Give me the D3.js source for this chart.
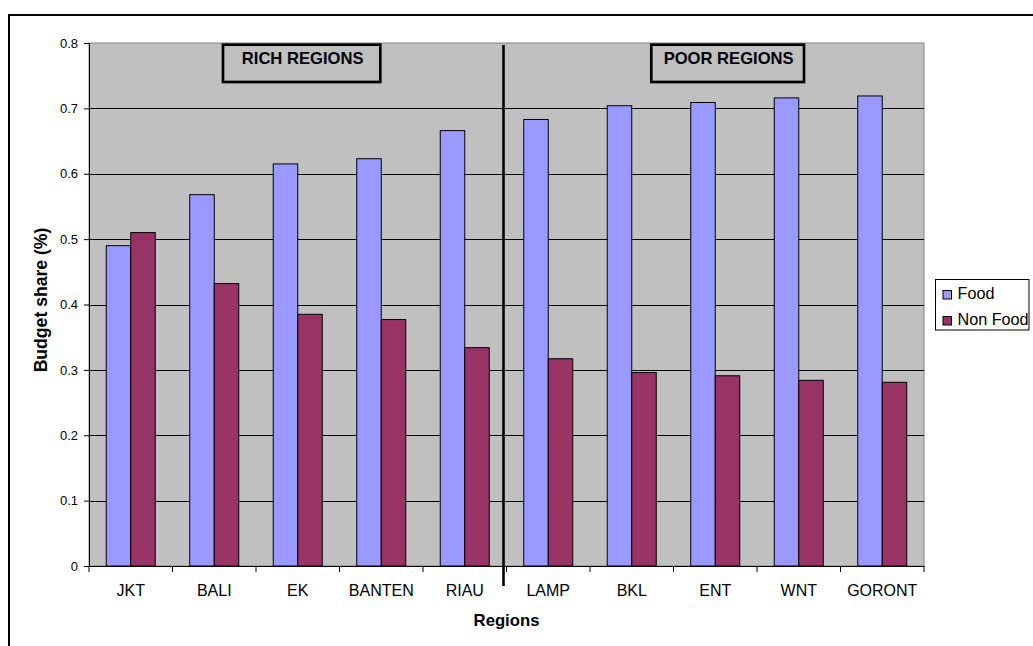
<!DOCTYPE html>
<html>
<head>
<meta charset="utf-8">
<script src="https://cdn.jsdelivr.net/npm/d3@7"></script>
<style>
  html, body { margin: 0; padding: 0; background: #fff; }
  svg { display: block; font-family: "Liberation Sans", Arial, sans-serif; }
</style>
</head>
<body>
<svg id="chart" width="1033" height="646"></svg>
<script>
// Budget shares by region
const categories = ["JKT", "BALI", "EK", "BANTEN", "RIAU", "LAMP", "BKL", "ENT", "WNT", "GORONT"];
const seriesNames = ["Food", "Non Food"];
const foodShare    = [0.490, 0.568, 0.615, 0.623, 0.666, 0.683, 0.704, 0.709, 0.716, 0.719];
const nonFoodShare = [0.510, 0.432, 0.385, 0.377, 0.334, 0.317, 0.296, 0.291, 0.284, 0.281];
const yTicks = [0, 0.1, 0.2, 0.3, 0.4, 0.5, 0.6, 0.7, 0.8];
const seriesColors = ["#9999FF", "#993366"];

const rows = categories.map((c, i) => ({ region: c, values: [foodShare[i], nonFoodShare[i]] }));

const svg = d3.select("#chart");
const plot = { left: 89, right: 924, top: 43, bottom: 566 };

// outer chart frame
svg.append("rect")
  .attr("x", 9).attr("y", 15).attr("width", 1100).attr("height", 700)
  .attr("fill", "none").attr("stroke", "#000").attr("stroke-width", 2);

const x0 = d3.scaleBand().domain(categories).range([plot.left, plot.right]).paddingInner(0).paddingOuter(0);
const x1 = d3.scaleBand().domain([0, 1]).range([0, x0.bandwidth()]).paddingInner(0).paddingOuter(0.704);
const y = d3.scaleLinear().domain([0, 0.8]).range([plot.bottom, plot.top]);

// plot background
svg.append("rect")
  .attr("x", plot.left).attr("y", plot.top)
  .attr("width", plot.right - plot.left).attr("height", plot.bottom - plot.top)
  .attr("fill", "#C0C0C0").attr("stroke", "#808080").attr("stroke-width", 1);

// horizontal gridlines
svg.append("g").selectAll("line")
  .data(yTicks.filter(t => t > 0 && t < 0.8))
  .join("line")
  .attr("x1", plot.left).attr("x2", plot.right)
  .attr("y1", d => Math.round(y(d)) + 0.5).attr("y2", d => Math.round(y(d)) + 0.5)
  .attr("stroke", "#000").attr("stroke-width", 1);

// bars
const groups = svg.append("g").selectAll("g")
  .data(rows).join("g")
  .attr("transform", d => `translate(${x0(d.region)},0)`);
groups.selectAll("rect")
  .data(d => d.values.map((v, k) => ({ v, k })))
  .join("rect")
  .attr("x", d => x1(d.k))
  .attr("width", x1.bandwidth())
  .attr("y", d => y(d.v))
  .attr("height", d => y(0) - y(d.v))
  .attr("fill", d => seriesColors[d.k])
  .attr("stroke", "#000").attr("stroke-width", 1);

// y axis
const yAxis = d3.axisLeft(y).tickValues(yTicks).tickSize(5).tickPadding(6)
  .tickFormat(d => d === 0 ? "0" : d3.format(".1f")(d));
const gy = svg.append("g").attr("transform", `translate(${plot.left},0)`).call(yAxis);
gy.select(".domain").attr("stroke", "#000");
gy.selectAll(".tick line").attr("stroke", "#000");
gy.selectAll("text").attr("font-size", 13).attr("fill", "#000")
  .attr("font-family", "Liberation Sans, Arial, sans-serif");

// x axis
const xAxis = d3.axisBottom(x0).tickSize(0).tickPadding(19);
const gx = svg.append("g").attr("transform", `translate(0,${plot.bottom})`).call(xAxis);
gx.select(".domain").attr("stroke", "#000");
gx.selectAll("text").attr("font-size", 16).attr("fill", "#000")
  .attr("font-family", "Liberation Sans, Arial, sans-serif");
// category boundary ticks
gx.append("g").selectAll("line")
  .data(d3.range(categories.length + 1))
  .join("line")
  .attr("x1", i => plot.left + i * x0.step()).attr("x2", i => plot.left + i * x0.step())
  .attr("y1", 0).attr("y2", 6)
  .attr("stroke", "#000");

// axis titles
svg.append("text")
  .attr("x", (plot.left + plot.right) / 2).attr("y", 626)
  .attr("text-anchor", "middle").attr("font-size", 16.7).attr("font-weight", "bold")
  .text("Regions");
svg.append("text")
  .attr("transform", `translate(47,300) rotate(-90)`)
  .attr("text-anchor", "middle").attr("font-size", 17.6).attr("font-weight", "bold")
  .text("Budget share (%)");

// divider between the two region groups
const divX = x0("LAMP") - 3;
svg.append("line")
  .attr("x1", divX).attr("x2", divX).attr("y1", 45).attr("y2", 586)
  .attr("stroke", "#000").attr("stroke-width", 2.6);

// group labels
const groupLabels = [
  { text: "RICH REGIONS", x: 223, w: 157.3 },
  { text: "POOR REGIONS", x: 651.3, w: 152.7 }
];
const gl = svg.append("g").selectAll("g").data(groupLabels).join("g");
gl.append("rect")
  .attr("x", d => d.x).attr("y", 44.7).attr("width", d => d.w).attr("height", 37.3)
  .attr("fill", "none").attr("stroke", "#000").attr("stroke-width", 2.7);
gl.append("text")
  .attr("x", d => d.x + d.w / 2 + 1).attr("y", 64)
  .attr("text-anchor", "middle").attr("font-size", 16.6).attr("font-weight", "bold")
  .text(d => d.text);

// legend
const legend = svg.append("g");
legend.append("rect")
  .attr("x", 935.5).attr("y", 279.5).attr("width", 93.5).attr("height", 50.5)
  .attr("fill", "#fff").attr("stroke", "#000").attr("stroke-width", 1);
const li = legend.selectAll("g.item").data(seriesNames).join("g")
  .attr("transform", (d, i) => `translate(0,${i * 26})`);
li.append("rect")
  .attr("x", 943).attr("y", 290.5).attr("width", 8.5).attr("height", 8.5)
  .attr("fill", (d, i) => seriesColors[i]).attr("stroke", "#000").attr("stroke-width", 1);
li.append("text")
  .attr("x", 957.5).attr("y", 298.5)
  .attr("font-size", 16.2).text(d => d);
</script>
</body>
</html>
